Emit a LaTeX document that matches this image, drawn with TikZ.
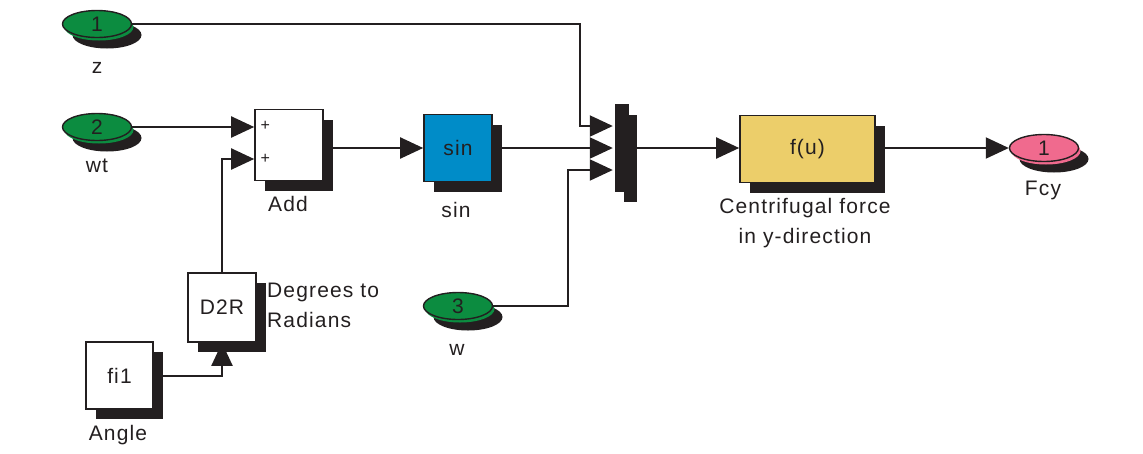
\documentclass[tikz,border=0pt]{standalone}
\usepackage{fontspec}
\setmainfont{Liberation Sans}
\newfontfamily\dfont[LetterSpace=5.5]{Liberation Sans}
\usetikzlibrary{arrows.meta,shapes.geometric,shadows,calc}
\definecolor{sgreen}{RGB}{12,140,64}
\definecolor{spink}{RGB}{240,106,142}
\definecolor{sblue}{RGB}{0,140,200}
\definecolor{syellow}{RGB}{236,206,106}
\definecolor{sblack}{RGB}{35,31,32}
\tikzset{
  txt/.style={font=\dfont\fontsize{21}{25}\selectfont, text=sblack},
  blk/.style={txt, draw=sblack, line width=1.6pt, fill=white, inner sep=0pt,
    drop shadow={shadow xshift=10pt, shadow yshift=-10pt, fill=sblack, opacity=1}},
  port/.style={txt, ellipse, draw=sblack, line width=1.4pt, minimum width=69pt,
    minimum height=27pt, inner sep=0pt, fill=#1,
    drop shadow={shadow xshift=10pt, shadow yshift=-11pt, fill=sblack, opacity=1},
    drop shadow={shadow xshift=2pt, shadow yshift=-3pt, fill=#1, opacity=1}},
  wire/.style={line width=2pt, draw=sblack},
  sig/.style={wire, -{Triangle[length=23pt,width=21pt]}},
  lbl/.style={txt, inner sep=0pt},
  plus/.style={font=\fontsize{16}{17}\selectfont, text=sblack, inner sep=0pt}
}
\begin{document}
\begin{tikzpicture}[x=1pt,y=-1pt]
\useasboundingbox (0,0) rectangle (1143,453);

% ports
\node[port=sgreen] (in1) at (97,24) {1};
\node[port=sgreen] (in2) at (97,127) {2};
\node[port=sgreen] (in3) at (458,306) {3};
\node[port=spink] (out1) at (1044,148) {1};

% blocks
\node[blk, minimum width=68pt, minimum height=71pt] (add) at (289,145) {};
\node[blk, fill=sblue, minimum width=68pt, minimum height=67pt] (sinb) at (458,148) {sin};
\node[draw=sblack, fill=sblack, inner sep=0pt, minimum width=13pt, minimum height=87pt,
  drop shadow={shadow xshift=9pt, shadow yshift=-10pt, fill=sblack, opacity=1}] (mux) at (621.5,148) {};
\node[blk, fill=syellow, minimum width=135pt, minimum height=67pt] (fu) at (807.5,149) {f(u)};
\node[blk, minimum width=68pt, minimum height=69pt] (d2r) at (222,307.5) {D2R};
\node[blk, minimum width=67pt, minimum height=67pt] (fi1) at (119.5,375.5) {fi1};

% add signs
\coordinate (a1) at ($(add.west)+(0,-19)$);
\coordinate (a2) at ($(add.west)+(0,14)$);
\node[plus] (p1) at ($(a1)+(11,0)$) {+};
\node[plus] (p2) at ($(a2)+(11,0)$) {+};

% mux inputs
\coordinate (m1) at ($(mux.west)+(-2,-22)$);
\coordinate (m2) at ($(mux.west)+(-2,0)$);
\coordinate (m3) at ($(mux.west)+(-2,22)$);

% connectors
\draw[sig] (in1.east) -| ($(m1)+(-33,0)$) -- (m1);
\draw[sig] (in2.east) -- (in2.east -| a1) ;
\draw[sig] (d2r.north) |- (a2);
\draw[sig] (add.east |- sinb.west) -- (sinb.west);
\draw[sig] (sinb.east) -- (m2);
\draw[sig] (in3.east) -| ($(m3)+(-45,0)$) -- (m3);
\draw[sig] (mux.east) -- (mux.east -| fu.west);
\draw[sig] (fu.east |- out1.west) -- (out1.west);
\draw[sig] (fi1.east) -| (d2r.south);

% labels
\node[lbl] (lz) at (97,68) {z};
\node[lbl] (lwt) at (97,166) {wt};
\node[lbl] (ladd) at (288,204) {Add};
\node[lbl] (lsin) at (456,210) {sin};
\node[lbl, align=center] (lfu) at (805,223) {Centrifugal force\\[5pt]in y-direction};
\node[lbl] (lfcy) at (1043,190) {Fcy};
\node[lbl, align=left, anchor=west] (ld2r) at (267,305) {Degrees to\\[5pt]Radians};
\node[lbl] (lang) at (118,435) {Angle};
\node[lbl] (lw) at (457,350) {w};
\end{tikzpicture}
\end{document}
